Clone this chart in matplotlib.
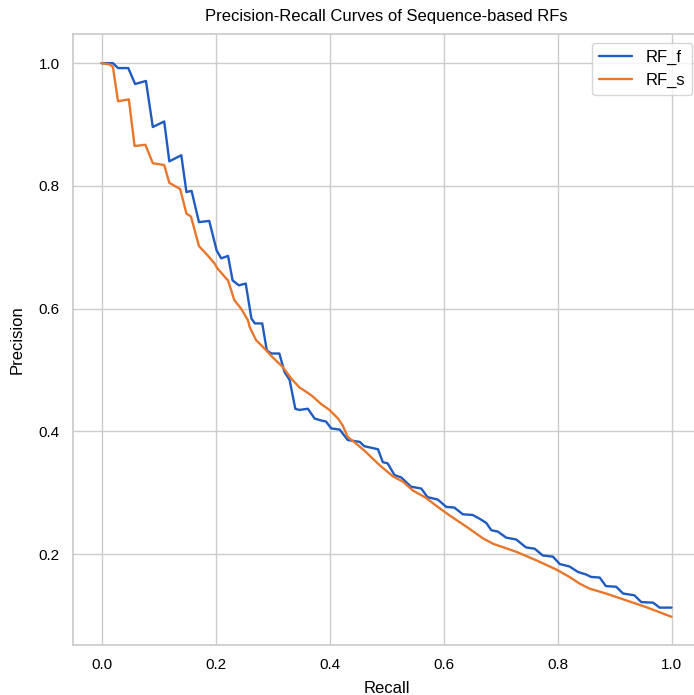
import matplotlib
matplotlib.use("Agg")
import matplotlib.pyplot as plt
import seaborn as sns

recall_f = [0, 0.02, 0.029, 0.047, 0.059, 0.078, 0.09, 0.11, 0.119, 0.14, 0.149, 0.158,
            0.171, 0.189, 0.202, 0.21, 0.222, 0.230, 0.241, 0.253, 0.263, 0.269, 0.282,
            0.290, 0.298, 0.312, 0.321, 0.33, 0.340, 0.347, 0.362, 0.374, 0.385, 0.394,
            0.403, 0.418, 0.432, 0.453, 0.461, 0.485, 0.4935, 0.502, 0.514, 0.526, 0.543,
            0.561, 0.572, 0.59, 0.605, 0.619, 0.634, 0.651, 0.663, 0.675, 0.684, 0.695,
            0.710, 0.7275, 0.745, 0.760, 0.774, 0.792, 0.804, 0.821, 0.836, 0.850, 0.859,
            0.874, 0.885, 0.903, 0.915, 0.935, 0.947, 0.968, 0.979, 1.0]
precision_f = [1.0, 1.0, 0.992, 0.992, 0.966, 0.971, 0.896, 0.905, 0.840, 0.850, 0.790, 0.792,
               0.741, 0.743, 0.695, 0.682, 0.686, 0.646, 0.638, 0.641, 0.584, 0.576, 0.576,
               0.532, 0.527, 0.527, 0.497, 0.484, 0.437, 0.435, 0.437, 0.421, 0.418, 0.416,
               0.405, 0.403, 0.386, 0.383, 0.376, 0.371, 0.350, 0.348, 0.329, 0.325, 0.310,
               0.307, 0.293, 0.289, 0.277, 0.276, 0.265, 0.264, 0.258, 0.251, 0.239, 0.237,
               0.227, 0.224, 0.211, 0.209, 0.198, 0.196, 0.184, 0.180, 0.171, 0.167, 0.163,
               0.162, 0.148, 0.147, 0.136, 0.133, 0.122, 0.121, 0.113, 0.113]

recall_s = [0, 0.014, 0.02, 0.029, 0.048, 0.058, 0.077, 0.09, 0.11, 0.119, 0.138, 0.149,
            0.157, 0.171, 0.186, 0.198, 0.204, 0.219, 0.222, 0.233, 0.245, 0.257, 0.26,
            0.271, 0.286, 0.30, 0.318, 0.333, 0.347, 0.368, 0.385, 0.40, 0.415, 0.423,
            0.432, 0.447, 0.461, 0.488, 0.511, 0.529, 0.546, 0.569, 0.59, 0.611, 0.64,
            0.669, 0.687, 0.7275, 0.763, 0.798, 0.821, 0.839, 0.856, 0.885, 0.92, 0.955, 1.0]
precision_s = [1.0, 0.998, 0.994, 0.938, 0.941, 0.865, 0.867, 0.837, 0.834, 0.805, 0.795, 0.755,
               0.750, 0.702, 0.687, 0.674, 0.665, 0.649, 0.646, 0.614, 0.600, 0.581, 0.570,
               0.549, 0.535, 0.521, 0.505, 0.486, 0.472, 0.459, 0.445, 0.435, 0.421, 0.410,
               0.391, 0.380, 0.369, 0.345, 0.327, 0.318, 0.304, 0.292, 0.277, 0.263, 0.245,
               0.226, 0.217, 0.204, 0.190, 0.175, 0.163, 0.152, 0.144, 0.136, 0.125, 0.114, 0.098]

labels = ["RF_f", "RF_s"]
title = "Precision-Recall Curves of Sequence-based RFs"

sns.set_theme(style="whitegrid")
plt.rcParams['font.family'] = ['Liberation Sans', 'DejaVu Sans']
plt.rcParams['text.color'] = 'black'
plt.rcParams['axes.labelcolor'] = 'black'
plt.rcParams['xtick.color'] = 'black'
plt.rcParams['ytick.color'] = 'black'

fig = plt.figure(figsize=(6.94, 6.95), dpi=100)
ax = fig.add_axes([73 / 694, 50 / 695, 627 / 694, 611 / 695])
ax.plot(recall_f, precision_f, color="#1f5bc0", lw=1.7, label=labels[0])
ax.plot(recall_s, precision_s, color="#e8762b", lw=1.7, label=labels[1])
ax.set_xlim(-0.05, 1.05)
ax.set_ylim(0.0521, 1.0475)
ax.set_xticks([0.0, 0.2, 0.4, 0.6, 0.8, 1.0])
ax.set_yticks([0.2, 0.4, 0.6, 0.8, 1.0])
ax.tick_params(labelsize=11)
ax.set_xlabel("Recall", fontsize=12, labelpad=6)
ax.set_ylabel("Precision", fontsize=12, labelpad=10)
ax.set_title(title, fontsize=12, pad=9)
ax.legend(loc="upper right", bbox_to_anchor=(692 / 694, 1 - 43 / 695),
          bbox_transform=fig.transFigure, borderaxespad=0, fontsize=12)
fig.savefig("out.png", dpi=100)
